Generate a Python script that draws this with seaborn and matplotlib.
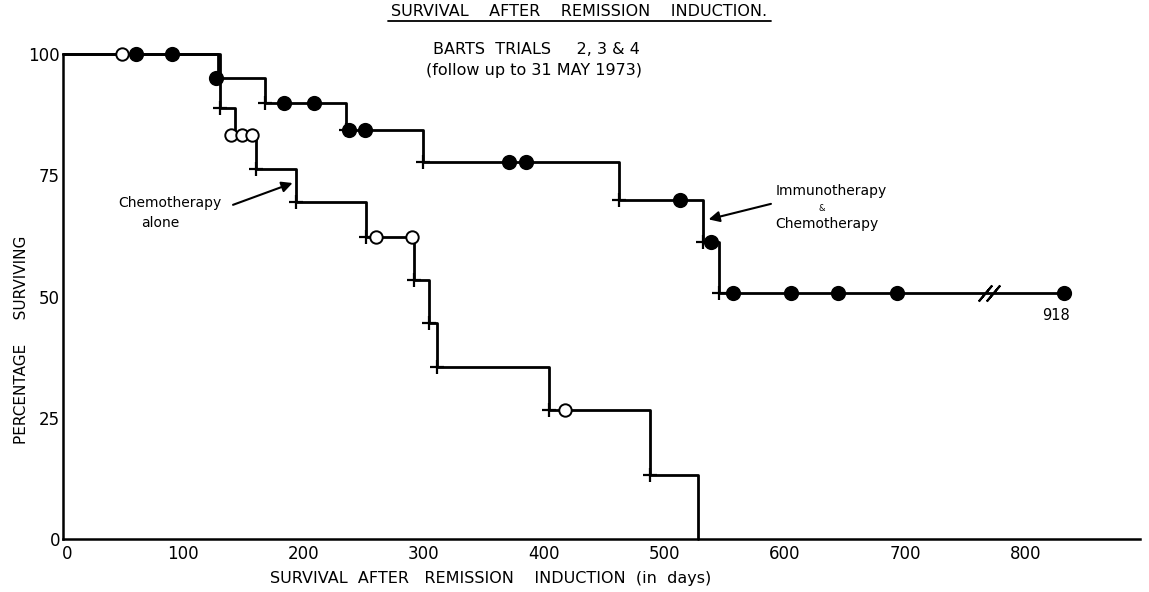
import matplotlib
matplotlib.use("Agg")
import matplotlib.pyplot as plt
import seaborn as sns
import pandas as pd
from matplotlib.lines import Line2D
from matplotlib.transforms import ScaledTranslation

# ---------------- data ----------------
# Immunotherapy & Chemotherapy arm
immuno_step_days = [0, 129, 168, 235, 299, 462, 532, 545, 832]
immuno_step_pct = [100, 95.0, 89.8, 84.3, 77.8, 69.9, 61.2, 50.7, 50.7]
immuno_censor_days = [61, 91, 127, 184, 209, 238, 251, 371, 385, 513, 539,
                      557, 605, 644, 693, 832]
immuno_censor_pct = [100, 100, 95.0, 89.8, 89.8, 84.3, 84.3, 77.8, 77.8,
                     69.9, 61.2, 50.7, 50.7, 50.7, 50.7, 50.7]
immuno_death_days = [168, 235, 299, 462, 532, 545]
immuno_death_pct = [89.8, 84.3, 77.8, 69.9, 61.2, 50.7]

# Chemotherapy alone arm
chemo_step_days = [0, 131, 143, 161, 194, 252, 292, 304, 311, 404, 488, 528]
chemo_step_pct = [100, 88.8, 83.3, 76.3, 69.4, 62.3, 53.4, 44.6, 35.5,
                  26.5, 13.2, 0]
chemo_censor_days = [49, 140, 149, 157, 260, 290, 417]
chemo_censor_pct = [100, 83.3, 83.3, 83.3, 62.3, 62.3, 26.5]
chemo_death_days = [131, 161, 194, 252, 292, 304, 311, 404, 488]
chemo_death_pct = [88.8, 76.3, 69.4, 62.3, 53.4, 44.6, 35.5, 26.5, 13.2]

# axis break and true value of last point
break_days = [766, 773]
break_pct = [50.7, 50.7]
last_label = "918"

x_ticks = [0, 100, 200, 300, 400, 500, 600, 700, 800]
y_ticks = [0, 25, 50, 75, 100]

# ---------------- figure ----------------
sns.set_style("white")
plt.rcParams["font.family"] = ["DejaVu Sans"]
plt.rcParams["text.color"] = "black"
plt.rcParams["xtick.color"] = "black"
plt.rcParams["ytick.color"] = "black"

W, H = 1149, 592
fig = plt.figure(figsize=(W / 100, H / 100), dpi=100)
ax = fig.add_axes([62.7 / W, 53 / H, 1077.3 / W, 485 / H])

imm_step = pd.DataFrame({"day": immuno_step_days, "pct": immuno_step_pct})
che_step = pd.DataFrame({"day": chemo_step_days, "pct": chemo_step_pct})

for df in (imm_step, che_step):
    sns.lineplot(data=df, x="day", y="pct", drawstyle="steps-post",
                 estimator=None, sort=False, color="black", linewidth=2.0,
                 ax=ax, clip_on=False, zorder=2)

# death crosses
sns.scatterplot(x=immuno_death_days + chemo_death_days,
                y=immuno_death_pct + chemo_death_pct,
                marker="+", s=110, color="black", linewidth=1.6, ax=ax,
                clip_on=False, zorder=3)
# censored: filled (immuno) and open (chemo alone)
sns.scatterplot(x=immuno_censor_days, y=immuno_censor_pct, marker="o",
                s=95, color="black", edgecolor="black", linewidth=1.2,
                ax=ax, clip_on=False, zorder=4)
sns.scatterplot(x=chemo_censor_days, y=chemo_censor_pct, marker="o",
                s=80, facecolor="white", edgecolor="black", linewidth=1.4,
                ax=ax, clip_on=False, zorder=4)

# axis break marks
ax.plot(break_days, break_pct, ls="none", marker=(2, 2, -40),
        markersize=15, mew=1.5, color="black", zorder=5)
ax.text(825, 46.0, last_label, ha="center", va="center", fontsize=10.5)

ax.set_xlim(0, 895)
ax.set_ylim(0, 100)
ax.set_xticks(x_ticks)
ax.set_yticks(y_ticks)
ax.set_xlabel("")
ax.set_ylabel("")
ax.tick_params(axis="both", direction="in", length=9, width=1.5,
               labelsize=12, color="black", labelcolor="black")
ax.tick_params(axis="y", pad=2)
ax.tick_params(axis="x", pad=4)
for side in ("top", "right"):
    ax.spines[side].set_visible(False)
for side in ("left", "bottom"):
    ax.spines[side].set_linewidth(1.8)
    ax.spines[side].set_color("black")

# nudge the x "0" label a little right, as in the reference
first = ax.get_xticklabels()[0]
first.set_transform(first.get_transform()
                    + ScaledTranslation(3 / 72, 0, fig.dpi_scale_trans))

# annotations
ax.text(89, 69.3, "Chemotherapy", ha="center", va="center", fontsize=10)
ax.text(81, 65.2, "alone", ha="center", va="center", fontsize=10)
ax.annotate("", xy=(191, 73.4), xytext=(141.5, 68.9),
            arrowprops=dict(arrowstyle="-|>", color="black", lw=1.5,
                            mutation_scale=16, shrinkA=0, shrinkB=0))

ax.text(592, 71.8, "Immunotherapy", ha="left", va="center", fontsize=10)
ax.text(631, 68.1, "&", ha="center", va="center", fontsize=6)
ax.text(592, 64.9, "Chemotherapy", ha="left", va="center", fontsize=10)
ax.annotate("", xy=(536.6, 65.9), xytext=(588.4, 69.1),
            arrowprops=dict(arrowstyle="-|>", color="black", lw=1.5,
                            mutation_scale=16, shrinkA=0, shrinkB=0))

# titles and axis labels
fig.text(579 / W, 1 - 12 / H, "SURVIVAL    AFTER    REMISSION    INDUCTION.",
         ha="center", va="center", fontsize=11.5)
fig.add_artist(Line2D([388 / W, 771 / W], [1 - 21 / H, 1 - 21 / H],
                      color="black", lw=1.3))
fig.text(536 / W, 1 - 50 / H, "BARTS  TRIALS     2, 3 & 4",
         ha="center", va="center", fontsize=11.5)
fig.text(534 / W, 1 - 70 / H, "(follow up to 31 MAY 1973)",
         ha="center", va="center", fontsize=11.5)
fig.text(491 / W, 1 - 579 / H,
         "SURVIVAL  AFTER   REMISSION    INDUCTION  (in  days)",
         ha="center", va="center", fontsize=11.5)
fig.text(21.7 / W, 1 - 340 / H, "PERCENTAGE     SURVIVING",
         ha="center", va="center", rotation=90, fontsize=11)

fig.savefig("out.png", dpi=100, facecolor="white")
